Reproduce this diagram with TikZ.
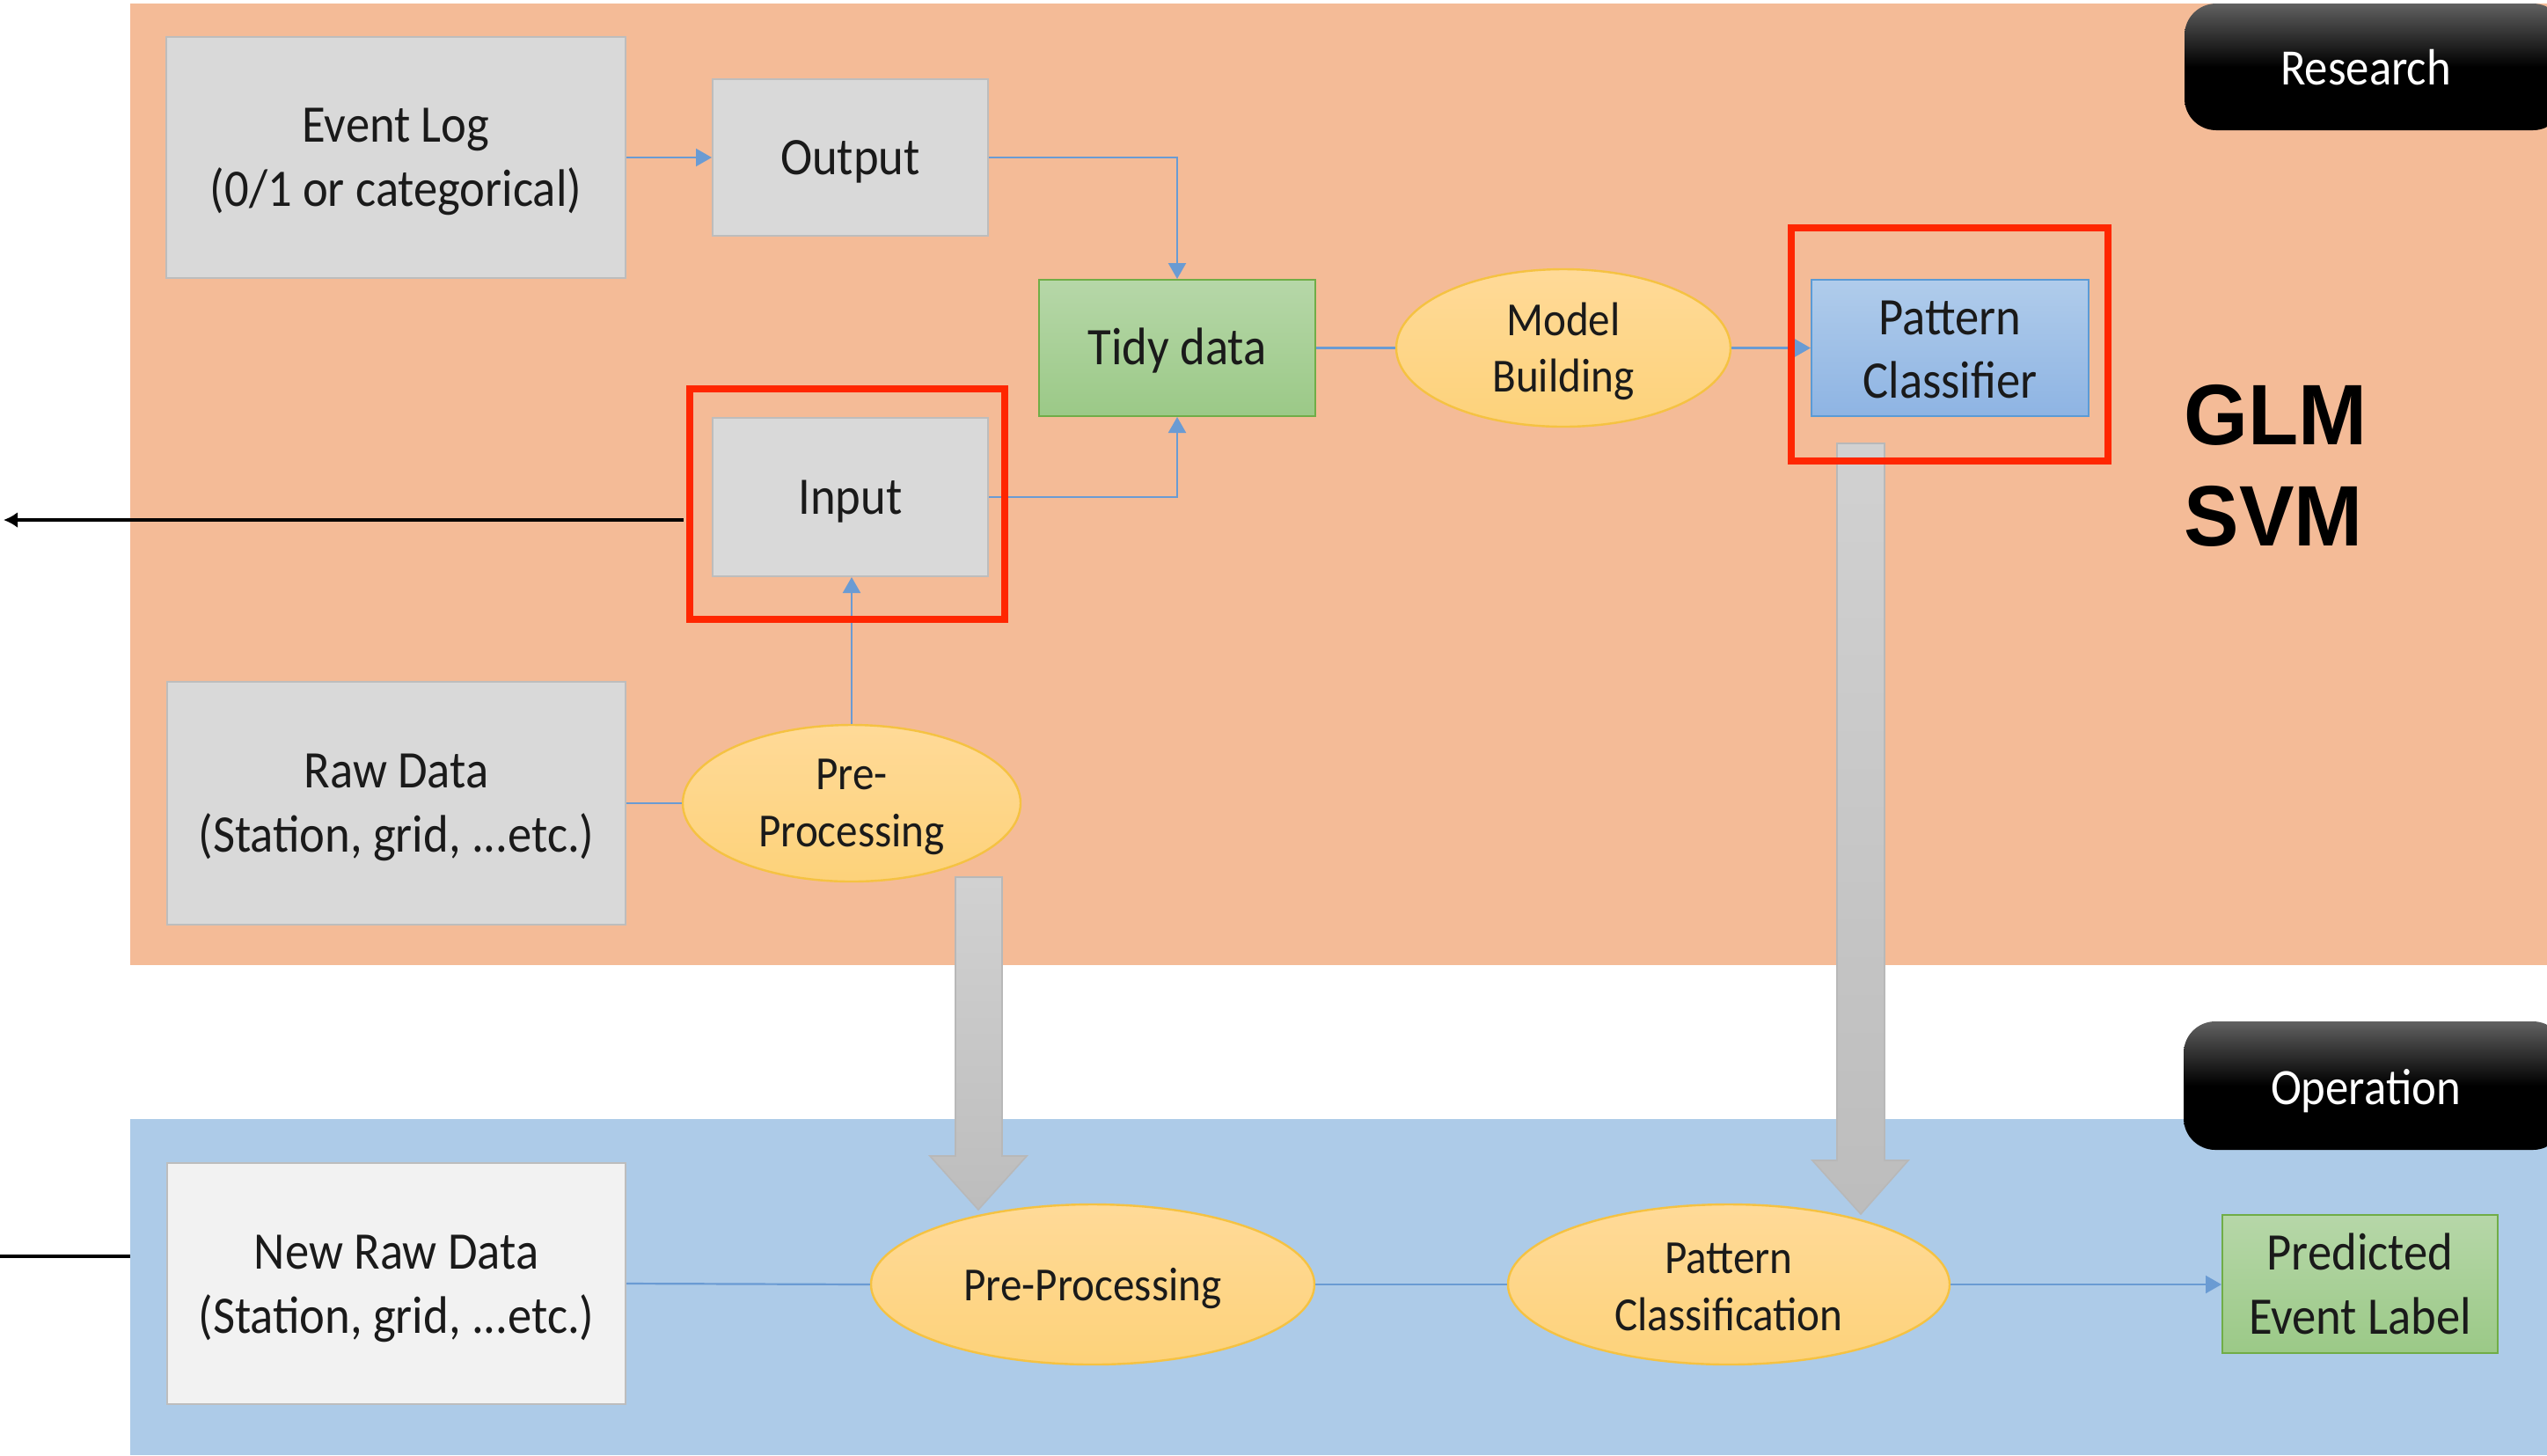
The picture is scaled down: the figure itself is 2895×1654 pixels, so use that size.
\documentclass[tikz,border=0pt]{standalone}
\usepackage{fontspec}
\setmainfont{Carlito}[FakeStretch=0.91]
\newfontfamily\arialfont{Liberation Sans}[FakeStretch=0.96]
\usetikzlibrary{shapes.geometric,arrows.meta,calc}
\definecolor{orangebg}{HTML}{F4BB97}
\definecolor{bluebg}{HTML}{ADCBE8}
\definecolor{graybox}{HTML}{D9D9D9}
\definecolor{grayedge}{HTML}{BDBDBD}
\definecolor{connblue}{HTML}{6A9BD3}
\definecolor{redbox}{HTML}{FF2600}
\definecolor{txt}{HTML}{1A1A1A}
\definecolor{HTML1}{HTML}{B6D7A8}
\definecolor{HTML2}{HTML}{9BC987}
\definecolor{greenedge}{HTML}{70AD47}
\definecolor{ellTop}{HTML}{FFDA98}
\definecolor{ellBot}{HTML}{FDD27A}
\definecolor{ellEdge}{HTML}{F5C242}
\definecolor{blueTop}{HTML}{B0CCEB}
\definecolor{blueBot}{HTML}{8EB4E3}
\definecolor{blueEdge}{HTML}{5B9BD5}
\newdimen\px \px=0.25pt
\begin{document}
\begin{tikzpicture}[x=0.25pt,y=-0.25pt,
  lbl/.style={text=txt,align=center,inner sep=0pt,yshift=-1.15pt,font=\fontsize{15}{18.2}\selectfont},
  elbl/.style={lbl,font=\fontsize{13.5}{16.2}\selectfont},
  graybx/.style={rectangle,inner sep=0pt,fill=graybox,draw=grayedge,line width=0.5pt},
  greenbx/.style={rectangle,inner sep=0pt,top color=HTML1,bottom color=HTML2,draw=greenedge,line width=0.5pt},
  bluebx/.style={rectangle,inner sep=0pt,top color=blueTop,bottom color=blueBot,draw=blueEdge,line width=0.5pt},
  ellipsebx/.style={ellipse,inner sep=0pt,top color=ellTop,bottom color=ellBot,draw=ellEdge,line width=0.6pt},
  badge/.style={rounded corners=9pt,top color=black!62,bottom color=black,middle color=black},
  badgetext/.style={text=white,inner sep=0pt,font=\fontsize{14.5}{17}\selectfont},
  conn/.style={draw=connblue,line width=0.55pt},
  tip/.style={-{Triangle[length=4.5pt,width=5pt]}},
  redframe/.style={draw=redbox,line width=2pt},
  blockarrow/.style={top color=black!18,bottom color=black!26,draw=black!28,line width=0.4pt}
]
\useasboundingbox (0,0) rectangle (2895,1654);
\fill[white] (0,0) rectangle (2895,1654);
% bands
\fill[orangebg] (148,4) rectangle (2895,1097);
\fill[bluebg] (148,1272) rectangle (2895,1654);
% badges
\shade[badge] (2483,4) rectangle (2915,148);
\node[badgetext] (research) at (2689,77) {Research};
\shade[badge] (2482,1161) rectangle (2915,1307);
\node[badgetext] (operation) at (2689,1240) {Operation};
% nodes
\node[graybx,minimum width=522\px,minimum height=274\px,label={[lbl]center:{Event Log\\(0/1 or categorical)}}] (eventlog) at (450,179) {};
\node[graybx,minimum width=313\px,minimum height=178\px,label={[lbl]center:{Output}}] (output) at (966.5,179) {};
\node[graybx,minimum width=313\px,minimum height=180\px,label={[lbl]center:{Input}}] (input) at (966.5,565) {};
\node[greenbx,minimum width=314\px,minimum height=155\px,label={[lbl,yshift=0.4pt]center:{Tidy data}}] (tidy) at (1338,395.5) {};
\node[ellipsebx,minimum width=380\px,minimum height=179\px,label={[elbl,yshift=0.2pt]center:{Model\\Building}}] (model) at (1777,395.5) {};
\node[bluebx,minimum width=315\px,minimum height=155\px,label={[lbl,yshift=0.7pt,font=\fontsize{15}{17.9}\selectfont]center:{Pattern\\Classifier}}] (classifier) at (2216.5,395.5) {};
\node[graybx,minimum width=521\px,minimum height=276\px,label={[lbl]center:{Raw Data\\(Station, grid, ...etc.)}}] (rawdata) at (450.5,913) {};
\node[ellipsebx,minimum width=384\px,minimum height=178\px,label={[elbl]center:{Pre-\\Processing}}] (prep) at (968,913) {};
\node[rectangle,inner sep=0pt,fill=black!5,draw=grayedge,line width=0.5pt,minimum width=521\px,minimum height=274\px,label={[lbl,yshift=-0.3pt]center:{New Raw Data\\(Station, grid, ...etc.)}}] (newraw) at (450.5,1459) {};
\node[ellipsebx,minimum width=504\px,minimum height=182\px,label={[elbl]center:{Pre-Processing}}] (prep2) at (1242,1460) {};
\node[ellipsebx,minimum width=502\px,minimum height=182\px,label={[elbl,yshift=0.5pt]center:{Pattern\\Classification}}] (pclass) at (1965,1460) {};
\node[greenbx,minimum width=313\px,minimum height=157\px,label={[lbl,yshift=1.15pt,font=\fontsize{15}{18.3}\selectfont]center:{Predicted\\Event Label}}] (predicted) at (2682.5,1459.5) {};
% GLM SVM
\node[anchor=north west,inner sep=0pt,align=left,font=\arialfont\bfseries\fontsize{24.4}{28.75}\selectfont] (models) at (2482,437) {GLM\\SVM};
% connectors
\draw[conn,tip] (eventlog.east) -- (output.west);
\draw[conn,tip] (output.east) -| (tidy.north);
\draw[conn,tip] (input.east) -| (tidy.south);
\draw[conn] (tidy.east) -- (model.west);
\draw[conn,tip] (model.east) -- (classifier.west);
\draw[conn] (rawdata.east) -- (prep.west);
\draw[conn,tip] (prep.north) -- (prep.north |- input.south);
\draw[conn] (newraw.east) -- (prep2.west);
\draw[conn] (prep2.east) -- (pclass.west);
\draw[conn,tip] (pclass.east) -- (pclass.east -| predicted.west);
% block arrows
\shade[blockarrow] (1086,997) -- (1139,997) -- (1139,1314) -- (1167,1314) -- (1112,1375) -- (1057,1314) -- (1086,1314) -- cycle;
\shade[blockarrow] (2088,504) -- (2142,504) -- (2142,1319) -- (2169,1319) -- (2115,1380) -- (2060,1319) -- (2088,1319) -- cycle;
% red frames
\draw[redframe] (784,442) rectangle (1142,704);
\draw[redframe] (2036,259) rectangle (2396,524);
% black lines
\coordinate (leftend) at (4,591);
\draw[line width=1.1pt,-{Latex[length=4pt,width=4.5pt]}] (777,591) -- (leftend);
\coordinate (leftstart) at (0,1428);
\draw[line width=1.1pt] (leftstart) -- (148,1428);
\end{tikzpicture}
\end{document}
